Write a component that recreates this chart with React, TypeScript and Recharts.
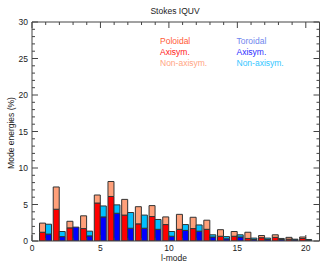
import { ComposedChart, Bar, XAxis, YAxis } from 'recharts';

const lModes = [1, 2, 3, 4, 5, 6, 7, 8, 9, 10, 11, 12, 13, 14, 15, 16, 17, 18, 19, 20];
const polAxisym = [1.2, 4.35, 1.8, 1.7, 5.2, 6.1, 3.55, 2.35, 3.35, 2.25, 1.6, 1.7, 1.6, 0.65, 0.65, 0.35, 0.45, 0.5, 0.25, 0.35];
const polNonAxisym = [1.25, 3.05, 0.9, 1.75, 1.1, 2.05, 2.15, 2.35, 1.5, 1.05, 2.05, 1.55, 1.25, 0.9, 0.65, 0.85, 0.3, 0.35, 0.25, 0.2];
const torAxisym = [0.95, 0.6, 1.9, 0.7, 3.3, 3.8, 1.75, 1.75, 1.6, 0.65, 1.45, 1.35, 0.55, 0.3, 0.55, 0.2, 0.2, 0.2, 0.15, 0.1];
const torNonAxisym = [1.35, 0.7, 0, 0.65, 1.5, 1.15, 2.15, 1.8, 1.35, 0.65, 0.8, 0.85, 0.3, 0.3, 0.3, 0.2, 0.2, 0.15, 0.1, 0.1];

const xTicks = [0, 1, 2, 3, 4, 5, 6, 7, 8, 9, 10, 11, 12, 13, 14, 15, 16, 17, 18, 19, 20];
const yTicks = Array.from({ length: 31 }, (_, i) => i);

const FONT = '"Liberation Sans", Arial, sans-serif';
const FRAME = '#444';

const data = lModes.map((l, i) => ({
  l,
  pa: polAxisym[i],
  pn: polNonAxisym[i],
  ta: torAxisym[i],
  tn: torNonAxisym[i],
}));

function BottomTick({ x, y, payload }: any) {
  const v = payload.value;
  const major = v % 5 === 0;
  return (
    <g>
      <line x1={x} x2={x} y1={y} y2={y - (major ? 6 : 3)} stroke={FRAME} />
      {major && (
        <text x={x} y={y + 10} textAnchor="middle" fontSize={8.5} fontFamily={FONT} fill="#222">{v}</text>
      )}
    </g>
  );
}

function TopTick({ x, y, payload }: any) {
  const major = payload.value % 5 === 0;
  return <line x1={x} x2={x} y1={y} y2={y + (major ? 6 : 3)} stroke={FRAME} />;
}

function LeftTick({ x, y, payload }: any) {
  const v = payload.value;
  const major = v % 5 === 0;
  return (
    <g>
      <line x1={x} x2={x + (major ? 6 : 3)} y1={y} y2={y} stroke={FRAME} />
      {major && (
        <text x={x - 4} y={y + 3} textAnchor="end" fontSize={8.5} fontFamily={FONT} fill="#222">{v}</text>
      )}
    </g>
  );
}

function RightTick({ x, y, payload }: any) {
  const major = payload.value % 5 === 0;
  return <line x1={x} x2={x - (major ? 6 : 3)} y1={y} y2={y} stroke={FRAME} />;
}

const txt = (left: number, top: number, color: string, s: string) => (
  <div style={{ position: 'absolute', left, top, color, fontSize: 8.5, fontFamily: FONT, lineHeight: '10px', whiteSpace: 'nowrap' }}>{s}</div>
);

export default function App() {
  const unit = 287.5 / 21;
  return (
    <div style={{ position: 'relative', width: 336, height: 271, background: '#fff' }}>
      <style>{'body{margin:0}'}</style>
      <ComposedChart
        width={336}
        height={271}
        data={data}
        margin={{ top: 21, right: 15.5, bottom: 0, left: 0 }}
        barCategoryGap="5%"
        barGap={0}
      >
        <XAxis xAxisId="cat" dataKey="l" type="category" hide height={0} padding={{ left: unit / 2, right: unit / 2 }} />
        <XAxis
          xAxisId="x" dataKey="l" type="number" domain={[0, 21]} allowDataOverflow ticks={xTicks} interval={0}
          height={30} tickSize={0} tickMargin={0} tickLine={false} axisLine={{ stroke: FRAME }} tick={<BottomTick />}
        />
        <XAxis
          xAxisId="top" orientation="top" dataKey="l" type="number" domain={[0, 21]} allowDataOverflow ticks={xTicks} interval={0}
          height={1} tickSize={0} tickMargin={0} tickLine={false} axisLine={{ stroke: FRAME }} tick={<TopTick />}
        />
        <YAxis
          domain={[0, 30]} allowDataOverflow ticks={yTicks} interval={0} width={32}
          tickSize={0} tickMargin={0} tickLine={false} axisLine={{ stroke: FRAME }} tick={<LeftTick />}
        />
        <YAxis
          yAxisId="r" orientation="right" domain={[0, 30]} allowDataOverflow ticks={yTicks} interval={0} width={1}
          tickSize={0} tickMargin={0} tickLine={false} axisLine={{ stroke: FRAME }} tick={<RightTick />}
        />
        <Bar xAxisId="cat" dataKey="pa" stackId="p" fill="#ff0000" stroke="#333" strokeWidth={1} isAnimationActive={false} />
        <Bar xAxisId="cat" dataKey="pn" stackId="p" fill="#ffa07a" stroke="#333" strokeWidth={1} isAnimationActive={false} />
        <Bar xAxisId="cat" dataKey="ta" stackId="t" fill="#0000ff" stroke="#333" strokeWidth={1} isAnimationActive={false} />
        <Bar xAxisId="cat" dataKey="tn" stackId="t" fill="#00bfff" stroke="#333" strokeWidth={1} isAnimationActive={false} />
      </ComposedChart>
      <div style={{ position: 'absolute', left: 175, top: 11, transform: 'translate(-50%,-50%)', fontSize: 8.5, fontFamily: FONT, color: '#222', whiteSpace: 'nowrap' }}>Stokes IQUV</div>
      <div style={{ position: 'absolute', left: 11, top: 133, transform: 'translate(-50%,-50%) rotate(-90deg)', fontSize: 8.5, fontFamily: FONT, color: '#222', whiteSpace: 'nowrap' }}>Mode energies (%)</div>
      <div style={{ position: 'absolute', left: 174, top: 258, transform: 'translate(-50%,-50%)', fontSize: 8.5, fontFamily: FONT, color: '#222', whiteSpace: 'nowrap' }}>l-mode</div>
      {txt(160, 36, '#ff5a36', 'Poloidal')}
      {txt(160, 47, '#ff1a1a', 'Axisym.')}
      {txt(160, 58, '#ffa583', 'Non-axisym.')}
      {txt(236.5, 36, '#6f86ee', 'Toroidal')}
      {txt(236.5, 47, '#2b2bff', 'Axisym.')}
      {txt(236.5, 58, '#33c6ff', 'Non-axisym.')}
    </div>
  );
}
